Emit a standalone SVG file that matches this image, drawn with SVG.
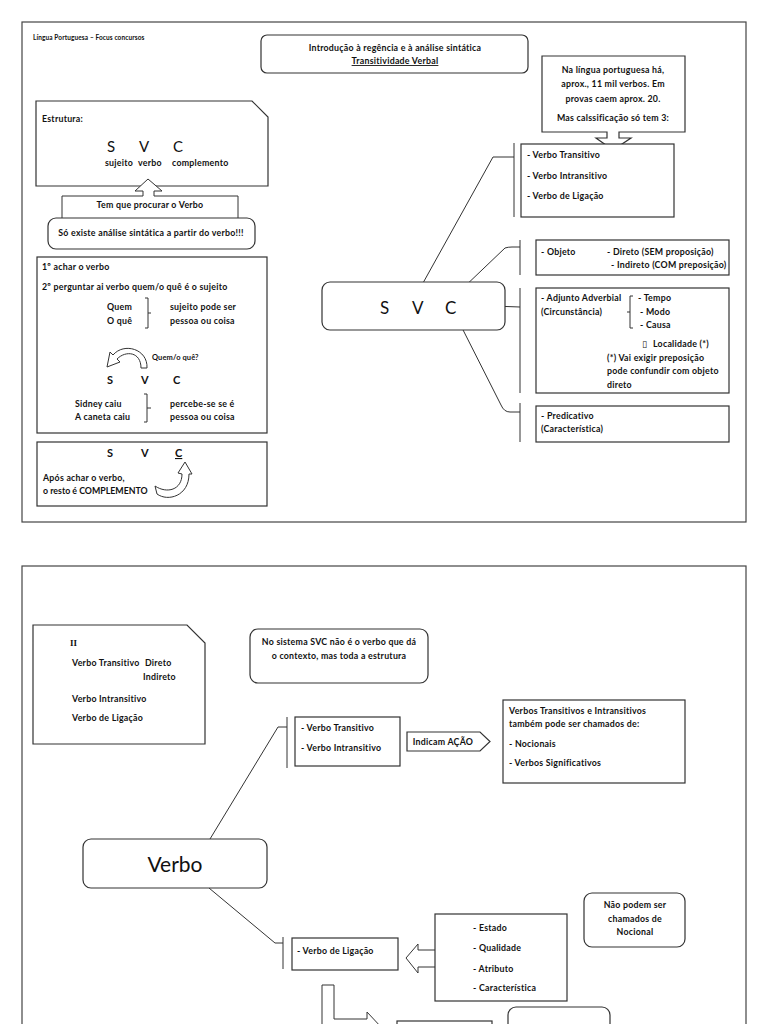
<svg xmlns="http://www.w3.org/2000/svg" width="768" height="1024" viewBox="0 0 768 1024">
<style>
text{font-family:Lato,"Liberation Sans","DejaVu Sans",sans-serif;fill:#111}
.t{font-size:8.8px;font-weight:bold;letter-spacing:0.25px}
.s{font-size:6.5px;font-weight:bold;letter-spacing:0.1px}
.mid{text-anchor:middle}
.box{fill:#fff;stroke:#333;stroke-width:1.2}
.frame{fill:#fff;stroke:#444;stroke-width:1.2}
.ln{fill:none;stroke:#333;stroke-width:1}
.arr{fill:#fff;stroke:#333;stroke-width:1}
.L{font-size:15px}
.M{font-size:11px;font-weight:bold}
</style>
<rect width="768" height="1024" fill="#fff"/>
<g id="page1">
<rect class="frame" x="22" y="22" width="724" height="500"/>
<text x="33" y="40" class="s">Língua Portuguesa – Focus concursos</text>
</g>
<g id="page2">
<rect class="frame" x="22" y="566" width="724" height="480"/>
</g>
<g id="connectors">
<path class="ln" d="M418,292 L493,157 H514 M514,143 V217"/>
<path class="ln" d="M461,290 L505,248 Q508,247 512,247 H520 M520,240 V275"/>
<path class="ln" d="M463,305 L520,307 M520,288 V393"/>
<path class="ln" d="M457,318 L501,405 Q504,412 510,412 H520 M520,403 V442"/>
<path class="ln" d="M210,839 L278,727 H287 M287,717 V768"/>
<path class="ln" d="M209,888 L275,943 H283 M283,937 V969"/>
</g>
<g id="title">
<rect class="box" x="261" y="35" width="267" height="38" rx="6"/>
<text x="395" y="51" class="t mid">Introdução à regência e à análise sintática</text>
<text x="395" y="64" class="t mid" text-decoration="underline">Transitividade Verbal</text>
</g>
<g id="note-verbos">
<path class="box" d="M542,56 H685 V132 H619 V138 H631 L613,150 L596,138 H607 V132 H542 Z"/>
<text x="613" y="73" class="t mid">Na língua portuguesa há,</text>
<text x="613" y="87" class="t mid">aprox., 11 mil verbos. Em</text>
<text x="613" y="102" class="t mid">provas caem aprox. 20.</text>
<text x="613" y="121" class="t mid">Mas calssificação só tem 3:</text>
</g>
<g id="tipos-verbo">
<rect class="box" x="521" y="144" width="153" height="73"/>
<text x="527" y="158" class="t">- Verbo Transitivo</text>
<text x="527" y="179" class="t">- Verbo Intransitivo</text>
<text x="527" y="199" class="t">- Verbo de Ligação</text>
</g>
<g id="estrutura">
<path class="box" d="M36,101 H252 L268,117 V186 H36 Z"/>
<text x="42" y="122" class="t">Estrutura:</text>
<text x="107" y="152" class="L">S</text>
<text x="139" y="152" class="L">V</text>
<text x="173" y="152" class="L">C</text>
<text x="105" y="166" class="t">sujeito</text>
<text x="138" y="166" class="t">verbo</text>
<text x="172" y="166" class="t">complemento</text>
</g>
<g id="procurar">
<path class="arr" d="M62,218 V196 H143 V191 H135 L148,179 L162,191 H154 V196 H238 V218"/>
<text x="150" y="208" class="t mid">Tem que procurar o Verbo</text>
</g>
<g id="so-existe">
<rect class="box" x="48" y="218" width="207" height="31" rx="8"/>
<text x="151" y="236" class="t mid">Só existe análise sintática a partir do verbo!!!</text>
</g>
<g id="achar-verbo">
<rect class="box" x="37" y="257" width="230" height="176"/>
<text x="42" y="270" class="t">1º achar o verbo</text>
<text x="42" y="290" class="t">2º perguntar ai verbo quem/o quê é o sujeito</text>
<text x="107" y="310" class="t">Quem</text>
<text x="107" y="324" class="t">O quê</text>
<path class="ln" d="M145,298 H148 V328 H145 M148,313 H151"/>
<text x="170" y="310" class="t">sujeito pode ser</text>
<text x="170" y="324" class="t">pessoa ou coisa</text>
<path class="arr" d="M147,368 C148,349 124,342 113,355 L110,352 L107,367 L120,362 L117,359 C126,350 141,352 141,368 Z"/>
<text x="152" y="360" class="s" style="font-size:7.5px">Quem/o quê?</text>
<text x="107" y="384" class="M">S</text>
<text x="141" y="384" class="M">V</text>
<text x="173" y="384" class="M">C</text>
<text x="75" y="407" class="t">Sidney caiu</text>
<text x="75" y="420" class="t">A caneta caiu</text>
<path class="ln" d="M144,394 H147 V422 H144 M147,408 H151"/>
<text x="170" y="407" class="t">percebe-se se é</text>
<text x="170" y="420" class="t">pessoa ou coisa</text>
</g>
<g id="complemento">
<rect class="box" x="37" y="442" width="230" height="64"/>
<text x="107" y="457" class="M">S</text>
<text x="141" y="457" class="M">V</text>
<text x="175" y="457" class="M" text-decoration="underline">C</text>
<text x="43" y="481" class="t">Após achar o verbo,</text>
<text x="43" y="494" class="t" style="letter-spacing:0">o resto é COMPLEMENTO</text>
<path class="arr" d="M157,494 C168,502 189,496 189,474 L192,474 L185,462 L178,473 L182,474 C182,490 167,494 155,486 Z"/>
</g>
<g id="svc">
<rect class="box" x="322" y="282" width="183" height="48" rx="8"/>
<text x="380" y="314" style="font-size:17px">S</text>
<text x="412" y="314" style="font-size:17px">V</text>
<text x="445" y="314" style="font-size:17px">C</text>
</g>
<g id="objeto">
<rect class="box" x="536" y="240" width="193" height="35"/>
<text x="541" y="255" class="t">- Objeto</text>
<text x="607" y="255" class="t">- Direto (SEM proposição)</text>
<text x="611" y="268" class="t">- Indireto (COM preposição)</text>
</g>
<g id="adjunto">
<rect class="box" x="536" y="288" width="193" height="105"/>
<text x="541" y="301" class="t">- Adjunto Adverbial</text>
<text x="541" y="315" class="t">(Circunstância)</text>
<path class="ln" d="M633,296 H630 V328 H633 M630,312 H627"/>
<text x="638" y="301" class="t">- Tempo</text>
<text x="640" y="315" class="t">- Modo</text>
<text x="640" y="328" class="t">- Causa</text>
<text x="642" y="347" class="t">▯</text>
<text x="653" y="347" class="t">Localidade (*)</text>
<text x="607" y="361" class="t">(*) Vai exigir preposição</text>
<text x="607" y="374" class="t">pode confundir com objeto</text>
<text x="607" y="388" class="t">direto</text>
</g>
<g id="predicativo">
<rect class="box" x="536" y="406" width="193" height="36"/>
<text x="541" y="419" class="t">- Predicativo</text>
<text x="541" y="432" class="t">(Característica)</text>
</g>
<g id="lista-ii">
<path class="box" d="M33,625 H187 L205,643 V744 H33 Z"/>
<text x="70" y="646" style="font-family:'Liberation Serif',serif;font-size:9px;font-weight:bold">II</text>
<text x="72" y="666" class="t">Verbo Transitivo</text>
<text x="145" y="666" class="t">Direto</text>
<text x="143" y="680" class="t">Indireto</text>
<text x="72" y="702" class="t">Verbo Intransitivo</text>
<text x="72" y="721" class="t">Verbo de Ligação</text>
</g>
<g id="sistema-svc">
<rect class="box" x="250" y="629" width="178" height="54" rx="8"/>
<text x="339" y="645" class="t mid">No sistema SVC não é o verbo que dá</text>
<text x="339" y="659" class="t mid">o contexto, mas toda a estrutura</text>
</g>
<g id="vt-vi">
<rect class="box" x="295" y="717" width="105" height="49"/>
<text x="301" y="731" class="t">- Verbo Transitivo</text>
<text x="301" y="751" class="t">- Verbo Intransitivo</text>
</g>
<g id="indicam-acao">
<path class="box" d="M407,732 H480 L490,741.5 L480,751 H407 Z"/>
<text x="443" y="745" class="t mid">Indicam AÇÃO</text>
</g>
<g id="nocionais">
<rect class="box" x="503" y="700" width="182" height="83"/>
<text x="509" y="714" class="t">Verbos Transitivos e Intransitivos</text>
<text x="509" y="727" class="t">também pode ser chamados de:</text>
<text x="509" y="747" class="t">- Nocionais</text>
<text x="509" y="766" class="t">- Verbos Significativos</text>
</g>
<g id="verbo">
<rect class="box" x="83" y="839" width="184" height="49" rx="8"/>
<text x="175" y="872" class="mid" style="font-size:21px">Verbo</text>
</g>
<g id="ligacao">
<rect class="box" x="292" y="938" width="106" height="32"/>
<text x="297" y="954" class="t">- Verbo de Ligação</text>
</g>
<g id="estado-lista">
<path class="arr" d="M435,950 H418 V944 L406,958 L418,973 V967 H435"/>
<rect class="box" x="435" y="914" width="132" height="87"/>
<text x="473" y="931" class="t">- Estado</text>
<text x="473" y="951" class="t">- Qualidade</text>
<text x="473" y="972" class="t">- Atributo</text>
<text x="473" y="991" class="t">- Característica</text>
</g>
<g id="nao-podem">
<rect class="box" x="584" y="893" width="101" height="54" rx="8"/>
<text x="635" y="908" class="t mid">Não podem ser</text>
<text x="635" y="922" class="t mid">chamados de</text>
<text x="635" y="935" class="t mid">Nocional</text>
</g>
<g id="bottom-partial">
<path class="arr" d="M322,1030 V985 H334 V1019 H367 V1012 L382,1028"/>
<rect class="box" x="397" y="1021" width="95" height="20"/>
<rect class="box" x="508" y="1007" width="102" height="40" rx="8"/>
</g>
</svg>
